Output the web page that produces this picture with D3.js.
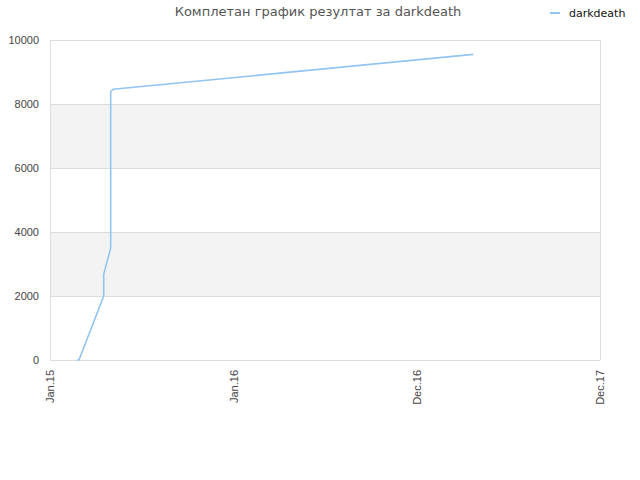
<!DOCTYPE html>
<html>
<head>
<meta charset="utf-8">
<script src="https://cdn.jsdelivr.net/npm/d3@7"></script>
<style>
  body { margin: 0; background: #fff; }
  svg { font-family: "DejaVu Sans", sans-serif; }
</style>
</head>
<body>
<div class="chart"></div>
<script>
"use strict";

// Tick labels along the x axis (evenly spaced)
const xTickLabels = ["Jan.15", "Jan.16", "Dec.16", "Dec.17"];
const yTicks = [0, 2000, 4000, 6000, 8000, 10000];

// Series: position along the x axis (in tick-label units) and score
const seriesX = [0.147, 0.158, 0.293, 0.293, 0.331, 0.331, 0.345, 2.309];
const seriesY = [0, 0, 2000, 2680, 3500, 8390, 8460, 9550];

const seriesName = "darkdeath";
const title = "Комплетан график резултат за darkdeath";

const width = 640;
const height = 480;
const margin = { top: 40, right: 40, bottom: 120, left: 50 };
const innerWidth = width - margin.left - margin.right;
const innerHeight = height - margin.top - margin.bottom;

const svg = d3.select(".chart")
  .append("svg")
    .attr("width", width)
    .attr("height", height);

const inner = svg.append("g")
  .attr("transform", `translate(${margin.left}, ${margin.top})`);

const xScale = d3.scaleLinear()
  .domain([0, xTickLabels.length - 1])
  .range([0, innerWidth]);

const yScale = d3.scaleLinear()
  .domain([0, 10000])
  .range([innerHeight, 0]);

// Alternating bands
const bands = d3.range(0, yTicks.length - 1).filter(i => i % 2 === 1);
inner.selectAll("rect.band")
  .data(bands)
  .join("rect")
    .attr("class", "band")
    .attr("x", 0)
    .attr("width", innerWidth)
    .attr("y", i => yScale(yTicks[i + 1]))
    .attr("height", i => yScale(yTicks[i]) - yScale(yTicks[i + 1]))
    .attr("fill", "#f3f3f3");

// Grid lines
inner.selectAll("line.grid")
  .data(yTicks)
  .join("line")
    .attr("class", "grid")
    .attr("x1", 0)
    .attr("x2", innerWidth)
    .attr("y1", d => yScale(d) + 0.5)
    .attr("y2", d => yScale(d) + 0.5)
    .attr("stroke", "#dddddd");

// Left and right borders
inner.selectAll("line.border")
  .data([0, xTickLabels.length - 1])
  .join("line")
    .attr("class", "border")
    .attr("x1", d => xScale(d) + 0.5)
    .attr("x2", d => xScale(d) + 0.5)
    .attr("y1", 0)
    .attr("y2", innerHeight)
    .attr("stroke", "#dddddd");

// Y axis labels
const yAxis = d3.axisLeft(yScale)
  .tickValues(yTicks)
  .tickFormat(d3.format("d"))
  .tickSize(0)
  .tickPadding(11);

const yG = inner.append("g").call(yAxis);
yG.select(".domain").remove();
yG.selectAll("text")
  .attr("font-size", 11)
  .attr("fill", "#444");

// X axis labels (rotated)
const xAxis = d3.axisBottom(xScale)
  .tickValues(d3.range(xTickLabels.length))
  .tickFormat(i => xTickLabels[i])
  .tickSize(0);

const xG = inner.append("g")
  .attr("transform", `translate(0, ${innerHeight})`)
  .call(xAxis);
xG.select(".domain").remove();
xG.selectAll("text")
  .attr("font-size", 11)
  .attr("fill", "#444")
  .attr("text-anchor", "end")
  .attr("dy", "0.35em")
  .attr("transform", "translate(0, 10) rotate(-90)")
  .attr("x", 0)
  .attr("y", 0);

// Series line
const data = seriesX.map((x, i) => ({ x, y: seriesY[i] }));
const line = d3.line()
  .x(d => xScale(d.x))
  .y(d => yScale(d.y));

inner.append("path")
  .attr("d", line(data))
  .attr("fill", "none")
  .attr("stroke", "#92c5f2")
  .attr("stroke-width", 1.6);

// Title
svg.append("text")
  .attr("x", 318)
  .attr("y", 16)
  .attr("text-anchor", "middle")
  .attr("font-size", 13)
  .attr("fill", "#555")
  .text(title);

// Legend
const legend = svg.append("g").attr("transform", "translate(550, 13)");
legend.append("line")
  .attr("x1", 0)
  .attr("x2", 10)
  .attr("stroke", "#92c5f2")
  .attr("stroke-width", 2);
legend.append("text")
  .attr("x", 19)
  .attr("y", 4)
  .attr("font-size", 11)
  .attr("fill", "#111")
  .text(seriesName);
</script>
</body>
</html>
